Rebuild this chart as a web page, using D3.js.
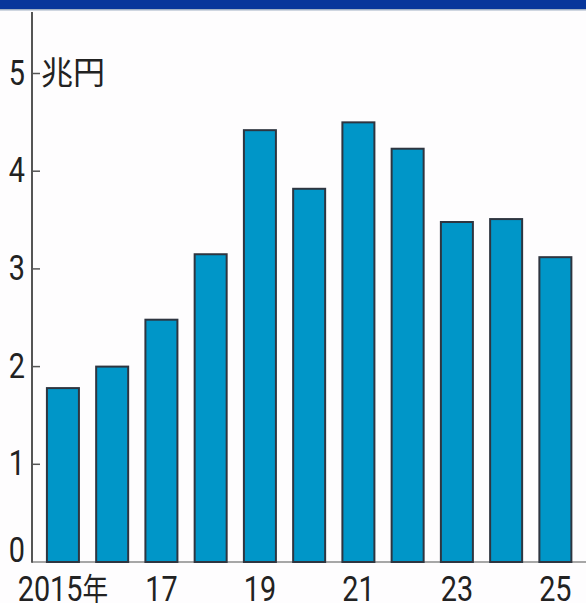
<!DOCTYPE html>
<html>
<head>
<meta charset="utf-8">
<script src="https://cdn.jsdelivr.net/npm/d3@7"></script>
<style>
  html, body { margin: 0; padding: 0; background: #fefdfe; }
  svg { display: block; }
</style>
</head>
<body>
<svg id="chart" width="586" height="603"></svg>
<script>
// Annual amounts, trillion yen
const years = ["2015", "16", "17", "18", "19", "20", "21", "22", "23", "24", "25"];
const values = [1.78, 2.0, 2.48, 3.15, 4.42, 3.82, 4.5, 4.23, 3.48, 3.51, 3.12];
const yTicks = [0, 1, 2, 3, 4, 5];
const xLabels = { "2015": "2015", "17": "17", "19": "19", "21": "21", "23": "23", "25": "25" };
const unitLabel = "兆円";
const yearSuffix = "年";

const svg = d3.select("#chart");
const W = 586, H = 603;

// header band
svg.append("rect").attr("x", 0).attr("y", 0).attr("width", W).attr("height", 9).attr("fill", "#07369b");
svg.append("rect").attr("x", 0).attr("y", 9).attr("width", W).attr("height", 1.5).attr("fill", "#9fb0c4");

const x = d3.scaleBand().domain(years).range([38.3, 580]).paddingInner(0.35).paddingOuter(0.175);
const y = d3.scaleLinear().domain([0, 5]).range([562, 73.5]);

const digitFont = "Roboto, 'Noto Sans', sans-serif";
const cjkFont = "'Noto Sans CJK JP', 'Noto Sans CJK SC', sans-serif";

// baseline
svg.append("line")
  .attr("x1", 32).attr("x2", W)
  .attr("y1", y(0)).attr("y2", y(0))
  .attr("stroke", "#8a8a8a").attr("stroke-width", 1.6);

// bars
svg.append("g").selectAll("rect")
  .data(values)
  .join("rect")
  .attr("x", (d, i) => x(years[i]))
  .attr("y", d => y(d))
  .attr("width", x.bandwidth())
  .attr("height", d => y(0) - y(d))
  .attr("fill", "#0096c8")
  .attr("stroke", "#2e3540")
  .attr("stroke-width", 2);

// y axis line and inward ticks
svg.append("line")
  .attr("x1", 32).attr("x2", 32)
  .attr("y1", 12).attr("y2", y(0) + 0.8)
  .attr("stroke", "#555", "").attr("stroke-width", 2);

svg.append("g").selectAll("line")
  .data(yTicks.filter(t => t > 0))
  .join("line")
  .attr("x1", 32).attr("x2", 40)
  .attr("y1", d => y(d)).attr("y2", d => y(d))
  .attr("stroke", "#555").attr("stroke-width", 1.5);

// y tick labels
svg.append("g").selectAll("g")
  .data(yTicks)
  .join("g")
  .attr("transform", d => `translate(25,${d === 0 ? y(0) : y(d) + 11}) scale(0.8,1)`)
  .append("text")
  .attr("text-anchor", "end")
  .attr("font-family", digitFont)
  .attr("font-size", 36)
  .attr("fill", "#222")
  .text(d => d);

// unit label
svg.append("text")
  .attr("x", 41).attr("y", 84)
  .attr("font-family", cjkFont)
  .attr("font-size", 32)
  .attr("fill", "#222")
  .text(unitLabel);

// x labels
const xl = svg.append("g").selectAll("g")
  .data(years.filter(yv => xLabels[yv] !== undefined))
  .join("g")
  .attr("transform", d => `translate(${x(d) + x.bandwidth() / 2},601) scale(0.8,1)`)
  .append("text")
  .attr("text-anchor", "middle")
  .attr("font-family", digitFont)
  .attr("font-size", 36)
  .attr("fill", "#222");

xl.append("tspan").text(d => xLabels[d]);
xl.filter((d, i) => i === 0)
  .append("tspan")
  .attr("font-family", cjkFont)
  .attr("font-size", 32)
  .text(yearSuffix);
</script>
</body>
</html>
